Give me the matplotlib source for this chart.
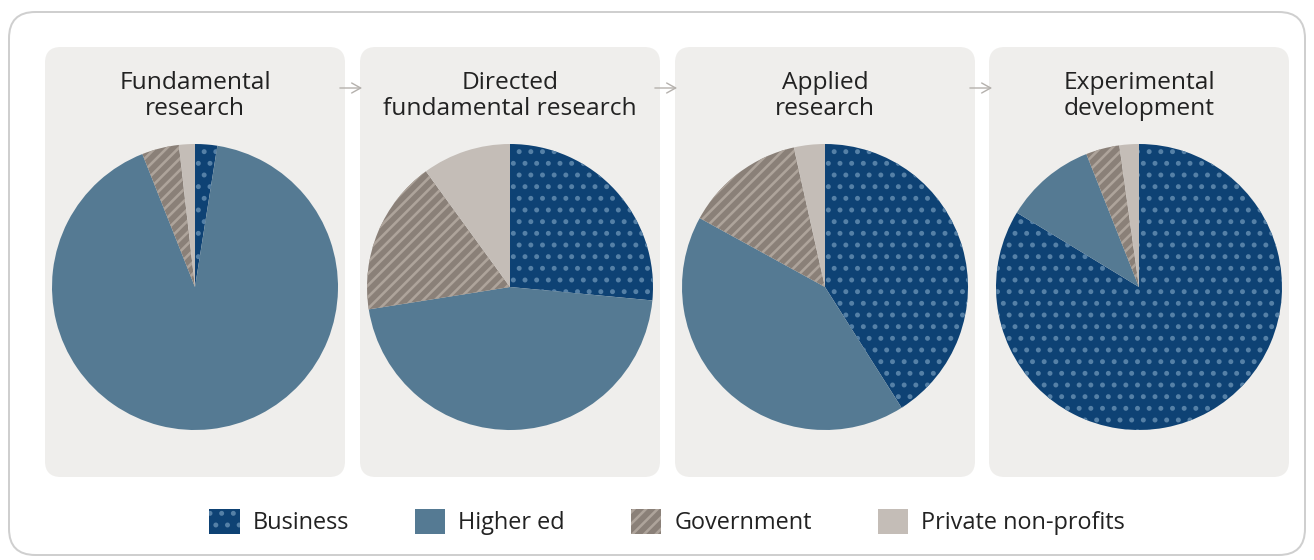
import matplotlib
matplotlib.use("Agg")
import matplotlib.pyplot as plt
from matplotlib.patches import FancyBboxPatch, Patch, FancyArrowPatch

titles = ["Fundamental\nresearch", "Directed\nfundamental research",
          "Applied\nresearch", "Experimental\ndevelopment"]
categories = ["Business", "Higher ed", "Government", "Private non-profits"]
business = [2.5, 26.5, 41.0, 83.7]
higher_ed = [91.5, 46.0, 42.0, 10.3]
government = [4.2, 17.5, 13.5, 3.8]
private_np = [1.8, 10.0, 3.5, 2.2]

face = ["#0e4274", "#557a93", "#8a8078", "#c4bdb7"]
hatchc = ["#5580a6", "#557a93", "#aea49b", "#c4bdb7"]
hatches = ["..", None, "////", None]

W, H = 1314, 560
DPI = 140
def pt(px):
    return px * 72.0 / DPI

plt.rcParams["hatch.linewidth"] = pt(2.6)
plt.rcParams["font.family"] = ["Open Sans", "DejaVu Sans"]
fig = plt.figure(figsize=(W / DPI, H / DPI), dpi=DPI)
fig.patch.set_facecolor("white")

def fx(x): return x / W
def fy(y): return 1 - y / H

# outer frame
fig.patches.append(FancyBboxPatch((fx(9), fy(555)), fx(1296), 543 / H,
                                  boxstyle="round,pad=0,rounding_size=0.02",
                                  transform=fig.transFigure, facecolor="white",
                                  edgecolor="#cfcfcf", lw=pt(2), zorder=0,
                                  mutation_aspect=W / H))

panel_x = [45, 360, 675, 989]
panel_w = 300
for i, t in enumerate(titles):
    x0 = panel_x[i]
    fig.patches.append(FancyBboxPatch((fx(x0), fy(477)), fx(panel_w), 430 / H,
                                      boxstyle="round,pad=0,rounding_size=0.012",
                                      transform=fig.transFigure, facecolor="#efeeec",
                                      edgecolor="none", zorder=1,
                                      mutation_aspect=W / H))
    fig.text(fx(x0 + panel_w / 2), fy(96), t, ha="center", va="center",
             fontsize=pt(24.5), color="#222222", linespacing=1.1)
    cx = x0 + panel_w / 2
    r = 143
    ax = fig.add_axes([fx(cx - r), fy(287 + r), fx(2 * r), 2 * r / H])
    vals = [business[i], higher_ed[i], government[i], private_np[i]]
    wedges, _ = ax.pie(vals, startangle=90, counterclock=False, radius=1.0,
                       colors=face, wedgeprops=dict(linewidth=0))
    for w, hc, h in zip(wedges, hatchc, hatches):
        if h:
            w.set_hatch(h)
            w.set_edgecolor(hc)
            w.set_linewidth(0)
    ax.set_xlim(-1.0, 1.0)
    ax.set_ylim(-1.0, 1.0)
    ax.set_aspect("equal")
    ax.axis("off")
    ax.set_zorder(3)

# arrows between panels
for x0 in [336, 651, 966]:
    fig.add_artist(FancyArrowPatch(
        (fx(x0), fy(88)), (fx(x0 + 30), fy(88)), transform=fig.transFigure,
        arrowstyle="->,head_length=%.2f,head_width=%.2f" % (pt(9), pt(5)),
        color="#b5b1ad", lw=pt(1.4), zorder=5))

handles = []
for c, hc, h in zip(face, hatchc, hatches):
    p = Patch(facecolor=c, edgecolor=hc if h else c, hatch=h, linewidth=0)
    handles.append(p)
fig.legend(handles, categories, loc="center", bbox_to_anchor=(fx(667), fy(522)),
           ncol=4, frameon=False, fontsize=pt(23.5), handlelength=1.3, handleheight=1.3,
           handletextpad=0.55, columnspacing=2.8, labelcolor="#222222")

fig.savefig("out.png", dpi=DPI, facecolor="white")
